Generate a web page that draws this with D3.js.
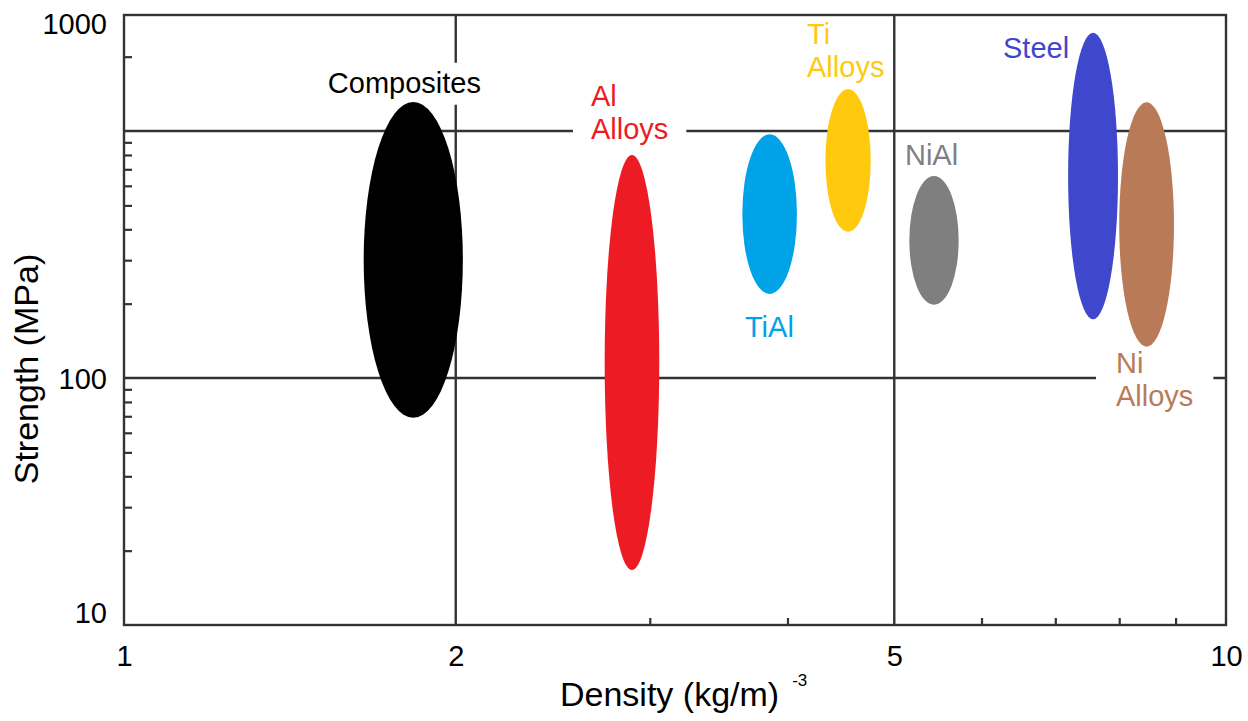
<!DOCTYPE html>
<html lang="en">
<head>
    <meta charset="UTF-8">
    <title>Strength vs Density</title>
    <style>
        body {
            margin: 0;
            background: #fff;
        }
        text {
            font-family: "Liberation Sans", Arial, sans-serif;
        }
    </style>
</head>
<body>
<div id="chart"></div>
<script src="https://d3js.org/d3.v7.min.js"></script>
<script>
    // material regions (density in the x units, strength in MPa)
    const materials = ["Composites", "Al Alloys", "TiAl", "Ti Alloys", "NiAl", "Steel", "Ni Alloys"];
    const densityLow = [1.65, 2.73, 3.64, 4.33, 5.16, 7.19, 8.00];
    const densityHigh = [2.03, 3.06, 4.08, 4.76, 5.72, 7.98, 8.97];
    const strengthLow = [69, 16.7, 219, 391, 198, 173, 134];
    const strengthHigh = [1310, 800, 970, 1475, 657, 2500, 1307];

    // where each label sits (left end of first baseline), in data units
    const labelLines = [["Composites"], ["Al", "Alloys"], ["TiAl"], ["Ti", "Alloys"], ["NiAl"], ["Steel"], ["Ni", "Alloys"]];
    const labelDensity = [1.531, 2.653, 3.660, 4.167, 5.113, 6.276, 7.947];
    const labelStrength = [1429, 1262, 147, 2250, 728, 1970, 104.8];

    // axes
    const xGrid = [2, 5];
    const yGrid = [100, 1000];
    const xMinor = [3, 4, 6, 7, 8, 9];
    const yMinor = [20, 30, 40, 50, 60, 70, 80, 90, 200, 300, 400, 500, 600, 700, 800, 900, 2000];
    const xTickVals = [1, 2, 5, 10];
    const xTickLabels = ["1", "2", "5", "10"];
    const yTickVals = [10, 100, 2950];
    const yTickLabels = ["10", "100", "1000"];

    const colors = ["#000000", "#ed1c24", "#00a2e8", "#ffc90e", "#7f7f7f", "#3f48cc", "#b97a57"];
    const labelPad = {"Al Alloys": 18, "Ni Alloys": 20};

    const width = 1248, height = 721;
    const margin = {top: 15, right: 22, bottom: 96, left: 124};
    const x0 = margin.left, x1 = width - margin.right;
    const y0 = height - margin.bottom, y1 = margin.top;
    const lineCol = "#333";
    const lineW = 2.4;

    const svg = d3.select("#chart").append("svg")
        .attr("width", width)
        .attr("height", height);

    const x = d3.scaleLog().domain([1, 10]).range([x0, x1]);
    const y = d3.scaleLog().domain([10, 2950]).range([y0, y1]);

    // grid lines
    svg.append("g").selectAll("line")
        .data(xGrid)
        .join("line")
        .attr("x1", d => x(d)).attr("x2", d => x(d))
        .attr("y1", y1).attr("y2", y0)
        .attr("stroke", lineCol).attr("stroke-width", lineW);
    svg.append("g").selectAll("line")
        .data(yGrid)
        .join("line")
        .attr("x1", x0).attr("x2", x1)
        .attr("y1", d => y(d)).attr("y2", d => y(d))
        .attr("stroke", lineCol).attr("stroke-width", lineW);

    // minor ticks, pointing inwards
    const yMinorAxis = svg.append("g")
        .attr("transform", `translate(${x0},0)`)
        .call(d3.axisLeft(y).tickValues(yMinor).tickSize(-8).tickFormat(""));
    const xMinorAxis = svg.append("g")
        .attr("transform", `translate(0,${y0})`)
        .call(d3.axisBottom(x).tickValues(xMinor).tickSize(-7).tickFormat(""));
    [yMinorAxis, xMinorAxis].forEach(function (a) {
        a.select(".domain").remove();
        a.selectAll("line").attr("stroke", lineCol).attr("stroke-width", 2.2);
    });

    const items = materials.map(function (m, i) {
        return {
            name: m, color: colors[i], lines: labelLines[i],
            dLo: densityLow[i], dHi: densityHigh[i],
            sLo: strengthLow[i], sHi: strengthHigh[i],
            lx: labelDensity[i], ly: labelStrength[i]
        };
    });

    // white boxes behind the labels hide the grid lines
    const boxLayer = svg.append("g");
    const ellLayer = svg.append("g");
    const textLayer = svg.append("g");

    ellLayer.selectAll("ellipse")
        .data(items)
        .join("ellipse")
        .attr("cx", d => (x(d.dLo) + x(d.dHi)) / 2)
        .attr("cy", d => (y(d.sLo) + y(d.sHi)) / 2)
        .attr("rx", d => (x(d.dHi) - x(d.dLo)) / 2)
        .attr("ry", d => (y(d.sLo) - y(d.sHi)) / 2)
        .attr("fill", d => d.color);

    const labels = textLayer.selectAll("text")
        .data(items)
        .join("text")
        .attr("x", d => x(d.lx))
        .attr("y", d => y(d.ly))
        .attr("font-size", 29)
        .attr("fill", d => d.color);
    labels.selectAll("tspan")
        .data(d => d.lines.map(t => ({t: t, x: x(d.lx)})))
        .join("tspan")
        .attr("x", d => d.x)
        .attr("dy", (d, i) => i === 0 ? 0 : 33.4)
        .text(d => d.t);

    labels.each(function (d) {
        const b = this.getBBox();
        const p = labelPad[d.name] || 8;
        boxLayer.append("rect")
            .attr("x", b.x - p)
            .attr("y", b.y - 4)
            .attr("width", b.width + 2 * p)
            .attr("height", b.height + 10)
            .attr("fill", "#fff");
    });

    // frame
    svg.append("rect")
        .attr("x", x0).attr("y", y1)
        .attr("width", x1 - x0).attr("height", y0 - y1)
        .attr("fill", "none")
        .attr("stroke", lineCol)
        .attr("stroke-width", lineW);

    // tick labels
    const yLab = svg.append("g")
        .attr("transform", `translate(${x0},0)`)
        .call(d3.axisLeft(y).tickValues(yTickVals).tickSize(0).tickPadding(17)
            .tickFormat((d, i) => yTickLabels[i]));
    const yDy = ["-0.1em", "0.35em", "0.63em"];
    yLab.selectAll("text").attr("dy", (d, i) => yDy[i]);

    const xLab = svg.append("g")
        .attr("transform", `translate(0,${y0})`)
        .call(d3.axisBottom(x).tickValues(xTickVals).tickSize(0).tickPadding(20)
            .tickFormat((d, i) => xTickLabels[i]));

    [yLab, xLab].forEach(function (a) {
        a.select(".domain").remove();
        a.attr("font-size", 29).attr("font-family", null);
        a.selectAll("text").attr("fill", "#000");
    });

    // axis titles
    const xTitle = svg.append("text")
        .attr("x", 560)
        .attr("y", 706)
        .attr("font-size", 34)
        .attr("fill", "#000");
    xTitle.append("tspan").text("Density (kg/m)");
    xTitle.append("tspan").attr("dx", 13).attr("dy", -20).attr("font-size", 17).text("-3");

    svg.append("text")
        .attr("transform", "translate(38,369) rotate(-90)")
        .attr("text-anchor", "middle")
        .attr("font-size", 34)
        .attr("fill", "#000")
        .text("Strength (MPa)");
</script>
</body>
</html>
